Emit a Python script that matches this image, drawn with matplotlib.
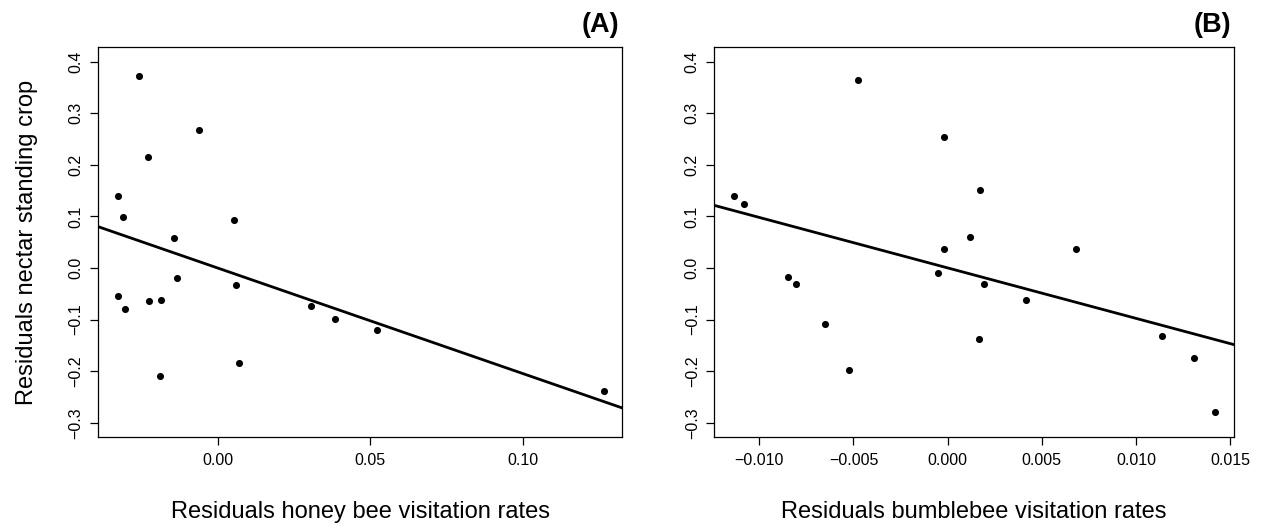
import matplotlib
matplotlib.use('AGG')
from matplotlib import pyplot as plt
import numpy as np

plt.rcParams['font.family'] = ['Liberation Sans', 'DejaVu Sans']

# panel A: honey bee residuals
honey_x = [-0.0256, -0.0061, -0.0226, -0.0326, -0.0308, 0.0053, -0.0141, -0.0133,
           0.0059, -0.0325, -0.0301, -0.0223, -0.0185, 0.0306, 0.0384, 0.0522,
           0.0071, -0.0187, 0.1265]
honey_y = [0.3715, 0.2668, 0.2157, 0.139, 0.0995, 0.0937, 0.0575, -0.0194,
           -0.033, -0.0543, -0.0788, -0.064, -0.062, -0.0743, -0.0982, -0.120,
           -0.1847, -0.210, -0.239]
honey_fit = (0.0002, -2.05)   # intercept, slope

# panel B: bumblebee residuals
bumble_x = [-0.00476, -0.00019, 0.00171, -0.01135, -0.01083, 0.0012, -0.00017,
            0.00684, -0.00049, -0.00848, -0.00807, 0.00193, 0.00414, -0.00649,
            0.00164, 0.01136, -0.00526, 0.0131, 0.01418]
bumble_y = [0.365, 0.255, 0.152, 0.1395, 0.124, 0.060, 0.0376, 0.0376, -0.0089,
            -0.018, -0.0316, -0.0316, -0.0613, -0.108, -0.137, -0.132, -0.197,
            -0.175, -0.279]
bumble_fit = (0.0003, -9.78)

y_ticks = [-0.3, -0.2, -0.1, 0.0, 0.1, 0.2, 0.3, 0.4]
honey_ticks = [0.00, 0.05, 0.10]
bumble_ticks = [-0.010, -0.005, 0.000, 0.005, 0.010, 0.015]


def fmt(v, f):
    s = f % v
    if s.startswith('-'):
        s = '\u2212' + s[1:]
    return s


fig = plt.figure(figsize=(12.65, 5.3), dpi=100)
ax1 = fig.add_axes([0.0777, 0.1755, 0.4142, 0.7353])
ax2 = fig.add_axes([0.5647, 0.1755, 0.4108, 0.7353])


def panel(ax, x, y, fit, xticks, xfmt, xlim, xlabel, tag):
    ax.scatter(x, y, s=26, color='black', zorder=3, linewidths=0)
    ax.set_xlim(xlim)
    ax.set_ylim(-0.3275, 0.428)
    xs = np.array(xlim)
    ax.plot(xs, fit[0] + fit[1] * xs, color='black', lw=2.0)
    ax.set_xticks(xticks)
    ax.set_xticklabels([fmt(t, xfmt) for t in xticks])
    ax.set_yticks(y_ticks)
    ax.set_yticklabels([fmt(t + 0.0, '%.1f') for t in y_ticks],
                       rotation=90, va='center')
    ax.tick_params(direction='out', length=5.5, width=0.9, labelsize=11.5,
                   color='black', pad=6)
    ax.tick_params(axis='y', pad=5)
    for s in ax.spines.values():
        s.set_linewidth(0.9)
    ax.set_xlabel(xlabel, fontsize=17, labelpad=24)
    ax.text(0.994, 1.040, tag, transform=ax.transAxes, ha='right', va='baseline',
            fontsize=19.5, fontweight='bold')


panel(ax1, honey_x, honey_y, honey_fit, honey_ticks, '%.2f', (-0.039, 0.1324),
      'Residuals honey bee visitation rates', '(A)')
panel(ax2, bumble_x, bumble_y, bumble_fit, bumble_ticks, '%.3f', (-0.01239, 0.01521),
      'Residuals bumblebee visitation rates', '(B)')
ax1.set_ylabel('Residuals nectar standing crop', fontsize=17, labelpad=22)

fig.savefig('out.png', dpi=100)
